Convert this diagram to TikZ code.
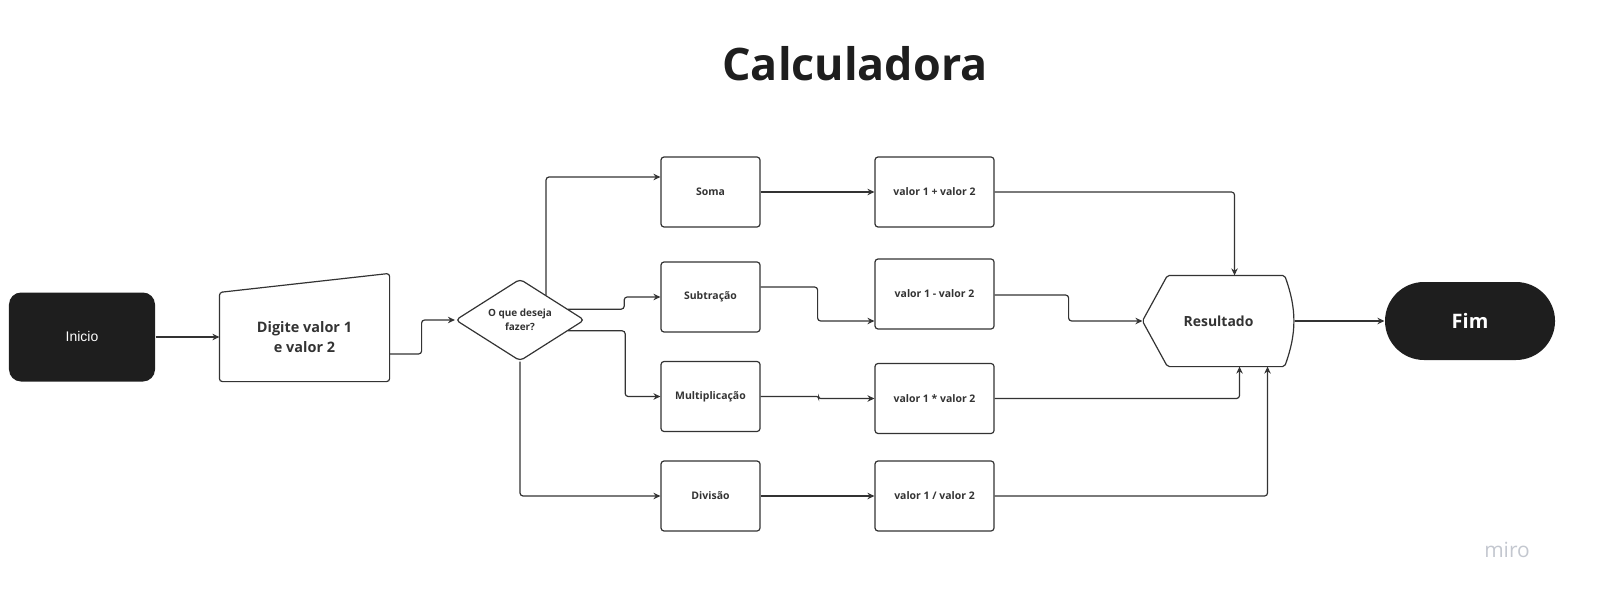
\documentclass[tikz,border=0pt]{standalone}
\usepackage{fontspec}
\setmainfont{Open Sans}
\newfontfamily\arialfont{Liberation Sans}
\usetikzlibrary{positioning,shapes.geometric,arrows.meta,calc}
\definecolor{linha}{HTML}{333333}
\definecolor{preto}{HTML}{1E1E1E}
\definecolor{marca}{HTML}{C3C7CF}

\tikzset{
  titulo/.style={font=\fontsize{45}{50}\selectfont\bfseries,text=preto},
  terminal/.style={fill=preto,text=white,inner sep=0pt},
  caixa/.style={draw=linha,rounded corners=3bp,minimum width=99bp,minimum height=70bp,
    inner sep=0pt,text=linha,font=\fontsize{10.5}{12}\selectfont\bfseries},
  conta/.style={caixa,minimum width=119bp},
  entrada/.style={minimum width=169bp,minimum height=88bp,inner sep=0pt,align=center,
    text=linha,font=\fontsize{14.5}{20}\selectfont\bfseries},
  decisao/.style={draw=linha,diamond,aspect=1.6,rounded corners=4bp,minimum width=129bp,
    minimum height=82bp,inner sep=0pt,align=center,text=linha,
    font=\fontsize{10}{14}\selectfont\bfseries},
  saida/.style={minimum width=151bp,minimum height=90bp,inner sep=0pt,text=linha,
    font=\fontsize{14}{16}\selectfont\bfseries},
  marca/.style={text=marca,font=\fontsize{21}{24}\selectfont}
}

\begin{document}
\begin{tikzpicture}[x=1bp,y=-1bp,on grid,line width=1.2bp,draw=linha,
    >={Stealth[length=7bp,width=6.5bp]}]
   \useasboundingbox (0,0) rectangle (1624,615);
   \node[titulo] (titulo) at (855,64) {Calculadora};
   \node[terminal,rounded corners=12bp,minimum width=146bp,minimum height=89bp,
     font=\arialfont\fontsize{14}{16}\selectfont] (inicio) at (82,337) {Inicio};
   \node[entrada] (entrada) [right=222.5bp of inicio] {Digite valor 1\\e valor 2};
   \node[decisao] (menu) [above right=17bp and 215.5bp of entrada] {O que deseja\\fazer?};
   \node[caixa] (soma) [above right=128bp and 190.5bp of menu] {Soma};
   \node[caixa] (subtracao) [below=105bp of soma] {Subtração};
   \node[caixa] (multiplicacao) [below=99.5bp of subtracao] {Multiplicação};
   \node[caixa] (divisao) [below=99.5bp of multiplicacao] {Divisão};
   \node[conta] (somaop) [right=224bp of soma] {valor 1 + valor 2};
   \node[conta] (subop) [right=224bp of subtracao, yshift=3bp] {valor 1 - valor 2};
   \node[conta] (multop) [right=224bp of multiplicacao, yshift=-2bp] {valor 1 * valor 2};
   \node[conta] (divop) [right=224bp of divisao] {valor 1 / valor 2};
   \node[saida] (resultado) [right=284bp of subop, yshift=-27bp] {Resultado};
   \node[terminal,rounded corners=39bp,minimum width=170bp,minimum height=78bp,
     font=\fontsize{20}{24}\selectfont\bfseries] (fim) [right=251.5bp of resultado] {Fim};
   \node[marca] (miro) at (1507,550) {miro};

   % contornos desenhados a partir dos nomes
   \draw[rounded corners=3bp] (entrada.south west) -- (entrada.north west)
     -- ([yshift=19bp]entrada.north east) -- (entrada.south east) -- cycle;
   \draw[rounded corners=2bp] (resultado.west) -- ([xshift=25bp]resultado.north west)
     -- ([xshift=-10bp]resultado.north east) to[bend left=20] ([xshift=-10bp]resultado.south east)
     -- ([xshift=25bp]resultado.south west) -- cycle;

   \coordinate (menusoma) at ($(menu.north)!0.4!(menu.east)$);
   \coordinate (menusub) at ($(menu.north)!0.74!(menu.east)$);
   \coordinate (menumult) at ($(menu.east)!0.26!(menu.south)$);

   \path[->]
    (inicio) edge (entrada)
    (soma) edge (somaop)
    (divisao) edge (divop)
    (resultado) edge (fim);
   \draw[->,rounded corners=3bp] ([yshift=-17bp]entrada.east) -- ++(32,0) |- (menu.west);
   \draw[->,rounded corners=3bp] (menusoma) |- ([yshift=15bp]soma.west);
   \draw[->,rounded corners=3bp] (menusub) -- ++(56,0) |- (subtracao.west);
   \draw[->,rounded corners=3bp] (menumult) -- ++(57,0) |- (multiplicacao.west);
   \draw[->,rounded corners=3bp] (menu.south) |- (divisao.west);
   \draw[->,rounded corners=3bp] ([yshift=10bp]subtracao.east) -- ++(57,0) |- ([yshift=-27bp]subop.west);
   \draw[->,rounded corners=2bp] (multiplicacao.east) -- ++(58,0) |- (multop.west);
   \draw[->,rounded corners=3bp] (somaop.east) -| ([xshift=16bp]resultado.north);
   \draw[->,rounded corners=3bp] ([yshift=-1bp]subop.east) -- ++(74,0) |- (resultado.west);
   \draw[->,rounded corners=3bp] (multop.east) -| ([xshift=21bp]resultado.south);
   \draw[->,rounded corners=3bp] (divop.east) -| ([xshift=49bp]resultado.south);
\end{tikzpicture}
\end{document}
